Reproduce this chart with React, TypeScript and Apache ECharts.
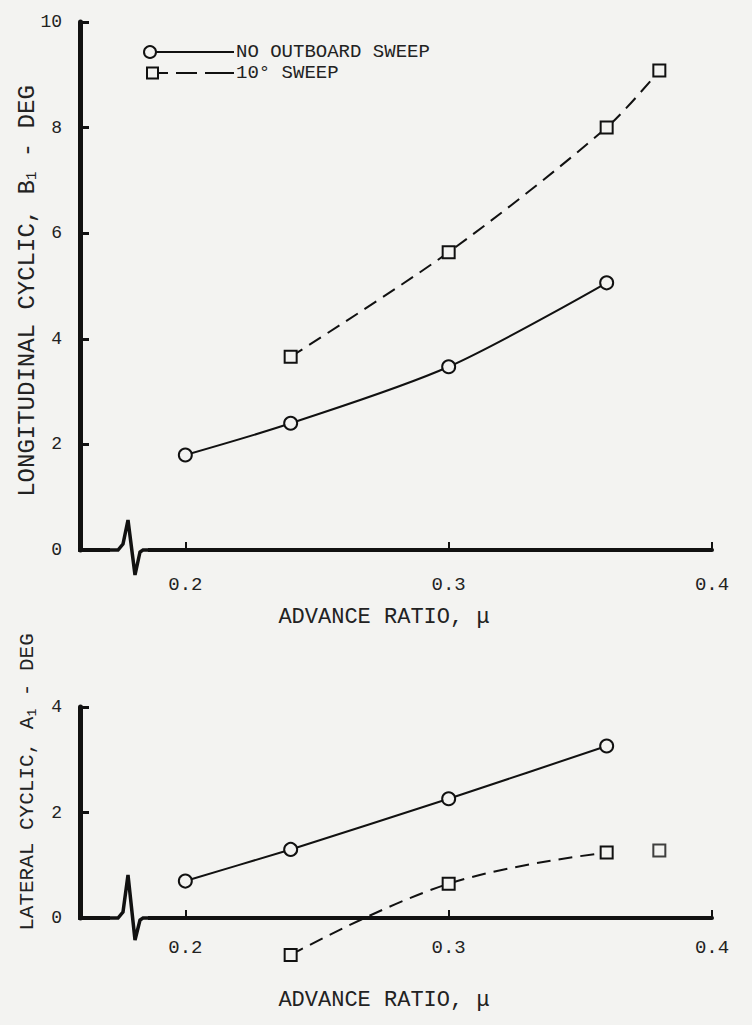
import React, { useEffect, useRef } from "react";
import * as echarts from "echarts";

// ---- data ----
const muTicks = [0.2, 0.3, 0.4];
const muNoSweep = [0.2, 0.24, 0.3, 0.36];
const b1NoSweep = [1.8, 2.4, 3.47, 5.06];
const muSweep = [0.24, 0.3, 0.36, 0.38];
const b1Sweep = [3.66, 5.64, 8.0, 9.08];
const a1NoSweep = [0.7, 1.3, 2.26, 3.26];
const a1Sweep = [-0.7, 0.65, 1.24];
const muSweepA1Isolated = [0.38];
const a1SweepIsolated = [1.28];
const legendLabels = ["NO OUTBOARD SWEEP", "10° SWEEP"];

const BG = "#f3f3f1";
const INK = "#111111";
const FONT = "'Liberation Mono', 'DejaVu Sans Mono', monospace";

const zip = (xs: number[], ys: number[]) => xs.map((x, i) => [x, ys[i]]);

export default function App() {
  const ref = useRef<HTMLDivElement>(null);
  useEffect(() => {
    if (!ref.current) return;
    const chart = echarts.init(ref.current, null, { renderer: "svg" });

    const xAxisBase = (gridIndex: number, labelMargin: number) => ({
      type: "value",
      gridIndex,
      min: 0.16,
      max: 0.4,
      splitLine: { show: false },
      axisLine: { show: true, onZero: false, lineStyle: { color: INK, width: 4 } },
      axisTick: {
        show: true,
        inside: true,
        length: 8,
        customValues: muTicks,
        lineStyle: { color: INK, width: 2 },
      },
      axisLabel: {
        show: true,
        customValues: muTicks,
        margin: labelMargin,
        color: "#222",
        fontFamily: FONT,
        fontSize: 19,
        formatter: (v: number) => v.toFixed(1),
      },
    });

    const yAxisBase = (gridIndex: number, max: number) => ({
      type: "value",
      gridIndex,
      min: 0,
      max,
      interval: 2,
      splitLine: { show: false },
      axisLine: { show: true, onZero: false, lineStyle: { color: INK, width: 5 } },
      axisTick: { show: true, inside: true, length: 9, lineStyle: { color: INK, width: 3 } },
      axisLabel: { margin: 18, color: "#222", fontFamily: FONT, fontSize: 18 },
    });

    const marker = {
      color: BG,
      borderColor: INK,
      borderWidth: 2,
    };

    const breakSymbol = (y0: number, up: number, down: number) => [
      {
        type: "rect",
        shape: { x: 110, y: y0 - 4, width: 38, height: 8 },
        style: { fill: BG },
        z: 100,
      },
      {
        type: "polyline",
        shape: {
          points: [
            [78, y0],
            [118, y0],
            [123, y0 - 6],
            [128, y0 - up],
            [135, y0 + down],
            [140, y0 + 2],
            [143, y0],
            [150, y0],
          ],
        },
        style: { stroke: INK, lineWidth: 3.5, fill: "none" },
        z: 101,
      },
    ];

    const ROW1 = 52;
    const ROW2 = 73;

    const legendText = (y: number, text: string) => ({
      type: "text",
      x: 236,
      y,
      style: {
        text,
        fill: "#222",
        fontFamily: FONT,
        fontSize: 19,
        lineHeight: 19,
        verticalAlign: "middle",
        align: "left",
      },
    });

    const option = {
      animation: false,
      backgroundColor: BG,
      grid: [
        { left: 80, right: 40, top: 22, height: 528 },
        { left: 80, right: 40, top: 707, height: 211 },
      ],
      xAxis: [xAxisBase(0, 25), xAxisBase(1, 20)],
      yAxis: [yAxisBase(0, 10), yAxisBase(1, 4)],
      series: [
        {
          type: "line",
          xAxisIndex: 0,
          yAxisIndex: 0,
          data: zip(muNoSweep, b1NoSweep),
          smooth: 0.3,
          symbol: "circle",
          symbolSize: 13,
          itemStyle: marker,
          lineStyle: { color: INK, width: 2, type: "solid" },
        },
        {
          type: "line",
          xAxisIndex: 0,
          yAxisIndex: 0,
          data: zip(muSweep, b1Sweep),
          smooth: 0.3,
          symbol: "rect",
          symbolSize: 12,
          itemStyle: marker,
          lineStyle: { color: INK, width: 2, type: [14, 8] },
        },
        {
          type: "line",
          xAxisIndex: 1,
          yAxisIndex: 1,
          data: zip(muNoSweep, a1NoSweep),
          smooth: 0.1,
          symbol: "circle",
          symbolSize: 13,
          itemStyle: marker,
          lineStyle: { color: INK, width: 2, type: "solid" },
          clip: false,
        },
        {
          type: "line",
          xAxisIndex: 1,
          yAxisIndex: 1,
          data: zip(muSweep.slice(0, 3), a1Sweep),
          smooth: 0.4,
          symbol: "rect",
          symbolSize: 12,
          itemStyle: marker,
          lineStyle: { color: INK, width: 2, type: [14, 8] },
          clip: false,
        },
        {
          type: "scatter",
          xAxisIndex: 1,
          yAxisIndex: 1,
          data: zip(muSweepA1Isolated, a1SweepIsolated),
          symbol: "rect",
          symbolSize: 12,
          itemStyle: marker,
          clip: false,
        },
      ],
      graphic: [
        ...breakSymbol(550, 30, 25),
        ...breakSymbol(918, 43, 22),
        // legend
        {
          type: "circle",
          shape: { cx: 150, cy: ROW1, r: 6 },
          style: { fill: BG, stroke: INK, lineWidth: 2 },
        },
        {
          type: "line",
          shape: { x1: 156, y1: ROW1, x2: 234, y2: ROW1 },
          style: { stroke: INK, lineWidth: 2 },
        },
        legendText(ROW1, legendLabels[0]),
        {
          type: "rect",
          shape: { x: 147, y: ROW2 - 5.5, width: 11, height: 11 },
          style: { fill: BG, stroke: INK, lineWidth: 2 },
        },
        {
          type: "line",
          shape: { x1: 158, y1: ROW2, x2: 168, y2: ROW2 },
          style: { stroke: INK, lineWidth: 2 },
        },
        {
          type: "line",
          shape: { x1: 176, y1: ROW2, x2: 197, y2: ROW2 },
          style: { stroke: INK, lineWidth: 2 },
        },
        {
          type: "line",
          shape: { x1: 205, y1: ROW2, x2: 234, y2: ROW2 },
          style: { stroke: INK, lineWidth: 2 },
        },
        legendText(ROW2, legendLabels[1]),
        // axis titles
        {
          type: "text",
          x: 27,
          y: 291,
          rotation: Math.PI / 2,
          style: {
            text: "{a|LONGITUDINAL CYCLIC, B}{s|1}{a| - DEG}",
            align: "center",
            verticalAlign: "middle",
            rich: {
              a: { fontFamily: FONT, fontSize: 24, fill: "#222", color: "#222" },
              s: { fontFamily: FONT, fontSize: 14, fill: "#222", color: "#222", padding: [10, 0, 0, 0] },
            },
          },
        },
        {
          type: "text",
          x: 27,
          y: 782,
          rotation: Math.PI / 2,
          style: {
            text: "{a|LATERAL CYCLIC, A}{s|1}{a| - DEG}",
            align: "center",
            verticalAlign: "middle",
            rich: {
              a: { fontFamily: FONT, fontSize: 21, fill: "#222", color: "#222" },
              s: { fontFamily: FONT, fontSize: 13, fill: "#222", color: "#222", padding: [10, 0, 0, 0] },
            },
          },
        },
        {
          type: "text",
          x: 384,
          y: 617,
          style: {
            text: "ADVANCE RATIO, μ",
            fill: "#222",
            font: `22px ${FONT}`,
            align: "center",
            verticalAlign: "middle",
          },
        },
        {
          type: "text",
          x: 384,
          y: 1000,
          style: {
            text: "ADVANCE RATIO, μ",
            fill: "#222",
            font: `22px ${FONT}`,
            align: "center",
            verticalAlign: "middle",
          },
        },
      ],
    };

    chart.setOption(option as any);
    return () => chart.dispose();
  }, []);

  return (
    <div
      ref={ref}
      style={{ position: "absolute", left: 0, top: 0, width: 752, height: 1025, background: BG }}
    />
  );
}
